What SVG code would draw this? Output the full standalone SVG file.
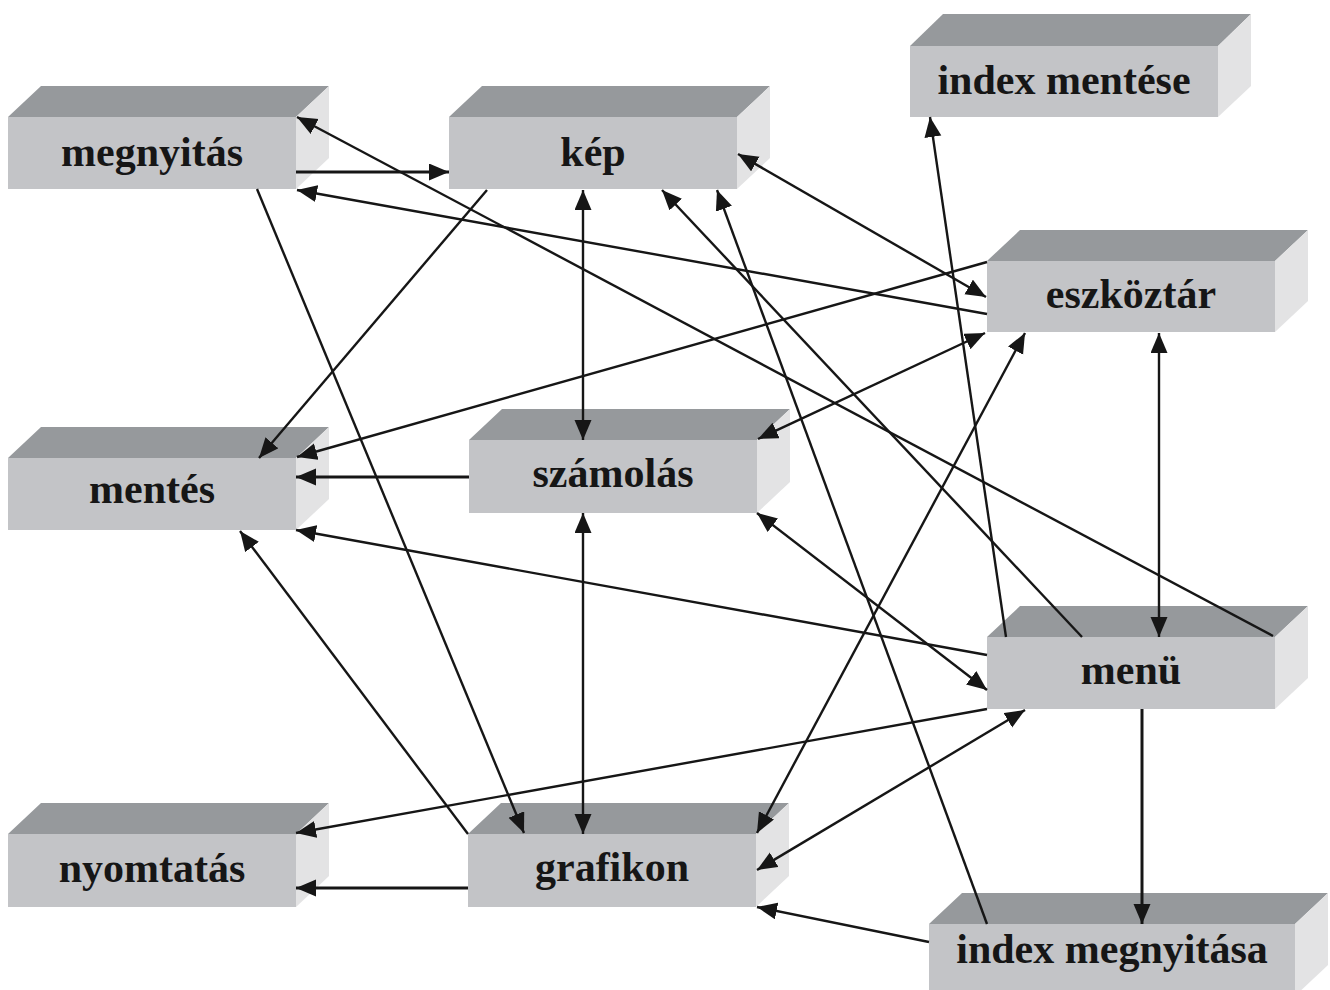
<svg xmlns="http://www.w3.org/2000/svg" width="1330" height="990" viewBox="0 0 1330 990">
<style>
.top{fill:#96999c}
.front{fill:#c3c4c7}
.side{fill:#e3e3e4}
.lbl{font-family:"Liberation Serif","Times New Roman",serif;font-weight:bold;font-size:42px;fill:#161616;text-anchor:middle}
.c{stroke:#161616;stroke-width:2.4;fill:none}
.h{stroke-width:3}
.e{marker-end:url(#ah)}
.b{marker-start:url(#ah);marker-end:url(#ah)}
</style>
<defs>
<marker id="ah" markerUnits="userSpaceOnUse" markerWidth="21" markerHeight="18" refX="20" refY="8.5" orient="auto-start-reverse" viewBox="0 0 21 18">
<path d="M0,0 L20,8.5 L0,17 z" fill="#161616"/>
</marker>
</defs>
<rect width="1330" height="990" fill="#ffffff"/>

<g id="megnyitas">
<polygon class="top" points="8,117 41,86 329,86 296,117"/>
<polygon class="side" points="296,117 329,86 329,158 296,189"/>
<rect class="front" x="8" y="117" width="288" height="72"/>
<text class="lbl" x="152" y="166">megnyitás</text>
</g>
<g id="kep">
<polygon class="top" points="449,117 482,86 770,86 737,117"/>
<polygon class="side" points="737,117 770,86 770,158 737,189"/>
<rect class="front" x="449" y="117" width="288" height="72"/>
<text class="lbl" x="593" y="166">kép</text>
</g>
<g id="index-mentese">
<polygon class="top" points="910,46 943,14 1251,14 1218,46"/>
<polygon class="side" points="1218,46 1251,14 1251,86 1218,117"/>
<rect class="front" x="910" y="46" width="308" height="71"/>
<text class="lbl" x="1064" y="94">index mentése</text>
</g>
<g id="eszkoztar">
<polygon class="top" points="987,261 1020,230 1308,230 1275,261"/>
<polygon class="side" points="1275,261 1308,230 1308,301 1275,332"/>
<rect class="front" x="987" y="261" width="288" height="71"/>
<text class="lbl" x="1131" y="308">eszköztár</text>
</g>
<g id="szamolas">
<polygon class="top" points="469,440 502,409 790,409 757,440"/>
<polygon class="side" points="757,440 790,409 790,482 757,513"/>
<rect class="front" x="469" y="440" width="288" height="73"/>
<text class="lbl" x="613" y="487">számolás</text>
</g>
<g id="mentes">
<polygon class="top" points="8,458 41,427 329,427 296,458"/>
<polygon class="side" points="296,458 329,427 329,499 296,530"/>
<rect class="front" x="8" y="458" width="288" height="72"/>
<text class="lbl" x="152" y="503">mentés</text>
</g>
<g id="menu">
<polygon class="top" points="987,637 1020,606 1308,606 1275,637"/>
<polygon class="side" points="1275,637 1308,606 1308,678 1275,709"/>
<rect class="front" x="987" y="637" width="288" height="72"/>
<text class="lbl" x="1131" y="684">menü</text>
</g>
<g id="nyomtatas">
<polygon class="top" points="8,834 41,803 329,803 296,834"/>
<polygon class="side" points="296,834 329,803 329,876 296,907"/>
<rect class="front" x="8" y="834" width="288" height="73"/>
<text class="lbl" x="152" y="882">nyomtatás</text>
</g>
<g id="grafikon">
<polygon class="top" points="468,834 501,803 789,803 756,834"/>
<polygon class="side" points="756,834 789,803 789,876 756,907"/>
<rect class="front" x="468" y="834" width="288" height="73"/>
<text class="lbl" x="612" y="881">grafikon</text>
</g>
<g id="index-megnyitasa">
<polygon class="top" points="929,924 962,893 1328,893 1295,924"/>
<polygon class="side" points="1295,924 1328,893 1328,965 1295,996"/>
<rect class="front" x="929" y="924" width="366" height="72"/>
<text class="lbl" x="1112" y="963">index megnyitása</text>
</g>

<g id="connectors">
<line class="c h e" x1="296" y1="172" x2="449" y2="172"/>
<line class="c e" x1="1273" y1="636" x2="297" y2="117"/>
<line class="c e" x1="987" y1="314" x2="297" y2="190"/>
<line class="c e" x1="257" y1="189" x2="524" y2="833"/>
<line class="c e" x1="487" y1="190" x2="259" y2="458"/>
<line class="c b" x1="583" y1="190" x2="583" y2="440"/>
<line class="c b" x1="738" y1="154" x2="986" y2="297"/>
<line class="c e" x1="1082" y1="637" x2="662" y2="190"/>
<line class="c e" x1="987" y1="924" x2="717" y2="190"/>
<line class="c e" x1="987" y1="262" x2="297" y2="457"/>
<line class="c b" x1="758" y1="439" x2="985" y2="333"/>
<line class="c b" x1="757" y1="833" x2="1025" y2="333"/>
<line class="c b" x1="1159" y1="333" x2="1159" y2="637"/>
<line class="c h e" x1="469" y1="477" x2="296" y2="477"/>
<line class="c b" x1="583" y1="513" x2="583" y2="834"/>
<line class="c b" x1="757" y1="513" x2="987" y2="690"/>
<line class="c e" x1="987" y1="655" x2="296" y2="530"/>
<line class="c e" x1="468" y1="834" x2="240" y2="531"/>
<line class="c e" x1="1006" y1="637" x2="930" y2="117"/>
<line class="c e" x1="987" y1="709" x2="296" y2="833"/>
<line class="c b" x1="757" y1="870" x2="1025" y2="710"/>
<line class="c h e" x1="468" y1="888" x2="296" y2="888"/>
<line class="c h e" x1="1142" y1="709" x2="1142" y2="924"/>
<line class="c e" x1="929" y1="942" x2="757" y2="907"/>
</g>
</svg>
